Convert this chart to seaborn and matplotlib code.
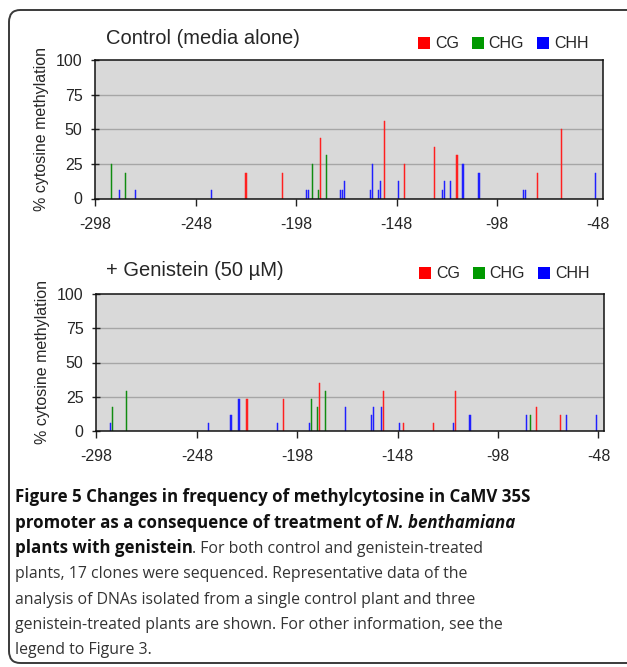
import matplotlib
matplotlib.use("Agg")
import matplotlib.pyplot as plt
from matplotlib.patches import FancyBboxPatch, Patch
import numpy as np
import pandas as pd
import seaborn as sns

# ---------------- data ----------------
ctrl_cg_pos = [-223, -205, -186, -154, -144, -129, -118, -78, -66]
ctrl_cg_val = [18.75, 18.75, 43.75, 56.25, 25.0, 37.5, 31.25, 18.75, 50.0]
ctrl_chg_pos = [-290, -283, -190, -187, -183]
ctrl_chg_val = [25.0, 18.75, 25.0, 6.25, 31.25]
ctrl_chh_pos = [-286, -278, -240, -193, -192, -176, -175, -174, -161, -160, -157,
                -156, -147, -125, -124, -121, -115, -107, -85, -84, -49]
ctrl_chh_val = [6.25, 6.25, 6.25, 6.25, 6.25, 6.25, 6.25, 12.5, 6.25, 25.0, 6.25,
                12.5, 12.5, 6.25, 12.5, 12.5, 25.0, 18.75, 6.25, 6.25, 18.75]

gen_cg_pos = [-223, -205, -187, -155, -145, -130, -119, -79, -67]
gen_cg_val = [23.53, 23.53, 35.29, 29.41, 5.88, 5.88, 29.41, 17.65, 11.76]
gen_chg_pos = [-290, -283, -191, -188, -184, -82]
gen_chg_val = [17.65, 29.41, 23.53, 17.65, 29.41, 11.76]
gen_chh_pos = [-291, -242, -231, -227, -208, -192, -174, -161, -160, -156, -147,
               -120, -112, -84, -64, -49]
gen_chh_val = [5.88, 5.88, 11.76, 23.53, 5.88, 5.88, 17.65, 11.76, 17.65, 17.65, 5.88,
               5.88, 11.76, 11.76, 11.76, 11.76]

contexts = ["CG", "CHG", "CHH"]
x_ticks = [-298, -248, -198, -148, -98, -48]
y_ticks = [0, 25, 50, 75, 100]
titles = ["Control (media alone)", "+ Genistein (50 \u00b5M)"]
ylabel = "% cytosine methylation"


def make_df(cg_p, cg_v, chg_p, chg_v, chh_p, chh_v):
    parts = []
    for ctx, p, v in (("CG", cg_p, cg_v), ("CHG", chg_p, chg_v), ("CHH", chh_p, chh_v)):
        parts.append(pd.DataFrame({"pos": p, "val": v, "ctx": ctx}))
    return pd.concat(parts, ignore_index=True)


dfs = [make_df(ctrl_cg_pos, ctrl_cg_val, ctrl_chg_pos, ctrl_chg_val, ctrl_chh_pos, ctrl_chh_val),
       make_df(gen_cg_pos, gen_cg_val, gen_chg_pos, gen_chg_val, gen_chh_pos, gen_chh_val)]

# ---------------- style ----------------
sns.set_style("ticks")
plt.rcParams["font.family"] = ["Liberation Sans", "DejaVu Sans"]

bar_pal = {"CG": "#ff2020", "CHG": "#108c10", "CHH": "#2020ff"}
leg_pal = {"CG": "#ff0000", "CHG": "#009900", "CHH": "#0000ff"}

W, H = 627, 667
fig = plt.figure(figsize=(W / 100, H / 100), dpi=100)


def fx(x):
    return x / W


def fy(y):
    return 1 - y / H


# axes boxes in pixels: left, top, right, bottom
boxes = [(95, 60, 602.5, 198.5), (96, 294, 603.5, 431)]
title_pos = [(106, 38), (106, 270)]

for i, (df, box) in enumerate(zip(dfs, boxes)):
    l, t, r, b = box
    ax = fig.add_axes([fx(l), fy(b), fx(r) - fx(l), fy(t) - fy(b)])
    ax.set_facecolor("#d9d9d9")
    for yv in [25, 50, 75]:
        ax.axhline(yv, color="#a6a6a6", lw=1.0, zorder=0.5)
    sns.barplot(data=df, x="pos", y="val", hue="ctx", hue_order=contexts,
                palette=bar_pal, native_scale=True, dodge=False, orient="x",
                errorbar=None, width=0.6, saturation=1, legend=False, ax=ax,
                zorder=2)
    for p in ax.patches:
        fc = p.get_facecolor()
        p.set_edgecolor(fc)
        p.set_linewidth(0.35)
    ax.set_xlim(-298.2, -45.5)
    ax.set_ylim(0, 100)
    ax.set_xticks(x_ticks)
    ax.set_xticklabels([str(v) for v in x_ticks])
    ax.set_yticks(y_ticks)
    ax.set_yticklabels([str(v) for v in y_ticks])
    ax.tick_params(axis="x", direction="out", length=5, width=1, pad=8, labelsize=11.5,
                   color="#222222")
    ax.tick_params(axis="y", direction="inout", length=6, width=1, pad=6, labelsize=11.5,
                   color="#222222")
    for s in ax.spines.values():
        s.set_visible(True)
        s.set_linewidth(1.1)
        s.set_color("#111111")
    ax.set_xlabel("")
    ax.set_ylabel(ylabel, fontsize=11.5)
    ax.yaxis.set_label_coords(-0.09, 0.5)

    handles = [Patch(facecolor=leg_pal[c], edgecolor="none", label=c) for c in contexts]
    ax.legend(handles=handles, loc="center right",
              bbox_to_anchor=(0.972, 1 + (t - (44 if i == 0 else 274)) / (b - t)),
              ncol=3, frameon=False, handlelength=0.75, handleheight=0.75,
              handletextpad=0.3, columnspacing=0.8, borderpad=0, borderaxespad=0,
              fontsize=11.5)

    tx, ty = title_pos[i]
    fig.text(fx(tx), fy(ty), titles[i], fontsize=14.5, ha="left", va="center")

# ---------------- caption ----------------
cap_font = ["Open Sans", "DejaVu Sans"]
size_bold = 12.2
size_reg = 11.4
caption_lines = [
    [("Figure 5 Changes in frequency of methylcytosine in CaMV 35S", "bold", "normal")],
    [("promoter as a consequence of treatment of ", "bold", "normal"),
     ("N. benthamiana", "bold", "italic")],
    [("plants with genistein", "bold", "normal"),
     (". For both control and genistein-treated", "normal", "normal")],
    [("plants, 17 clones were sequenced. Representative data of the", "normal", "normal")],
    [("analysis of DNAs isolated from a single control plant and three", "normal", "normal")],
    [("genistein-treated plants are shown. For other information, see the", "normal", "normal")],
    [("legend to Figure 3.", "normal", "normal")],
]
baselines = [502, 527.5, 553, 578, 603.5, 629, 654]
renderer = fig.canvas.get_renderer()
for line, yb in zip(caption_lines, baselines):
    x = 14.5
    for txt, wt, st in line:
        col = "#111111" if wt == "bold" else "#333333"
        sz = size_bold if wt == "bold" else size_reg
        tt = fig.text(fx(x), fy(yb), txt, fontsize=sz, fontweight=wt, fontstyle=st,
                      family=cap_font, ha="left", va="baseline", color=col)
        bb = tt.get_window_extent(renderer)
        x = bb.x1

# ---------------- outer rounded frame ----------------
frame = FancyBboxPatch((fx(9), fy(663)), fx(660) - fx(9), fy(10) - fy(663),
                       boxstyle="round,pad=0,rounding_size=0.018",
                       transform=fig.transFigure, fill=False, edgecolor="#3a3a3a",
                       linewidth=1.4, clip_on=False)
fig.patches.append(frame)

fig.savefig("out.png", dpi=100)
